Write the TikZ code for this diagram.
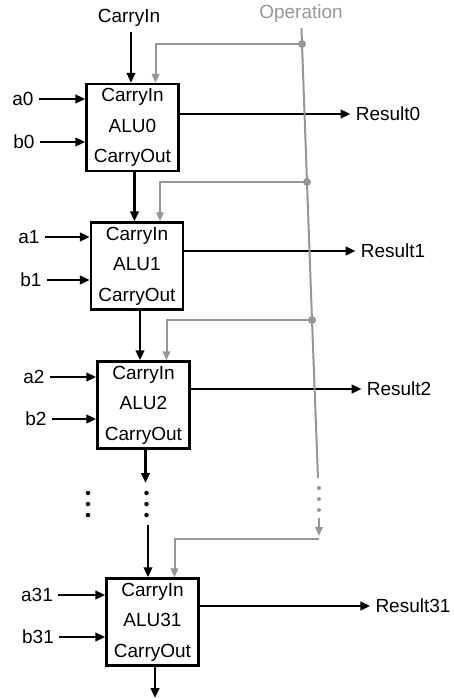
\documentclass[tikz,border=0pt]{standalone}
\usepackage{fontspec}
\setmainfont{Liberation Sans}
\usepackage{xcolor}
\usetikzlibrary{arrows.meta,positioning}

\definecolor{opgray}{RGB}{150,150,150}

\begin{document}
\begin{tikzpicture}[
  x=1pt, y=-1pt,
  font=\fontsize{19}{30.5}\selectfont,
  alu/.style={draw, line width=2.4pt, align=center, minimum width=92pt, minimum height=87pt, inner sep=0pt},
  lbl/.style={inner sep=5pt},
  sig/.style={-{Triangle[length=10pt, width=8.5pt]}, line width=2.5pt},
  ctrl/.style={-{Triangle[length=9pt, width=7.5pt]}, line width=2pt, opgray},
  tap/.style={circle, fill=opgray, inner sep=0pt, minimum size=8pt},
  dotmark/.style={circle, fill=black, inner sep=0pt, minimum size=4.5pt}
]
\useasboundingbox (0,0) rectangle (453,699);

% the four ALU slices
\node[alu] (alu0) at (132.5,127.5) {CarryIn\\ALU0\\CarryOut};
\node[alu] (alu1) at (137,266) {CarryIn\\ALU1\\CarryOut};
\node[alu] (alu2) at (143.5,405) {CarryIn\\ALU2\\CarryOut};
\node[alu] (alu31) at (152.5,622) {CarryIn\\ALU31\\CarryOut};

% inputs
\node[lbl] (a0) at (23,99) {a0};
\node[lbl] (b0) at (24,142) {b0};
\node[lbl] (a1) at (29,237) {a1};
\node[lbl] (b1) at (31,280) {b1};
\node[lbl] (a2) at (34,377) {a2};
\node[lbl] (b2) at (36,419) {b2};
\node[lbl] (a31) at (37,595) {a31};
\node[lbl] (b31) at (38,637) {b31};

\draw[sig] (a0) -- (a0 -| alu0.west);
\draw[sig] (b0) -- (b0 -| alu0.west);
\draw[sig] (a1) -- (a1 -| alu1.west);
\draw[sig] (b1) -- (b1 -| alu1.west);
\draw[sig] (a2) -- (a2 -| alu2.west);
\draw[sig] (b2) -- (b2 -| alu2.west);
\draw[sig] (a31) -- (a31 -| alu31.west);
\draw[sig] (b31) -- (b31 -| alu31.west);

% results
\node[lbl] (res0) at (388,114) {Result0};
\node[lbl] (res1) at (393,251) {Result1};
\node[lbl] (res2) at (399,389) {Result2};
\node[lbl] (res31) at (413,606) {Result31};

\draw[sig] (alu0.east |- res0) -- (res0);
\draw[sig] (alu1.east |- res1) -- (res1);
\draw[sig] (alu2.east |- res2) -- (res2);
\draw[sig] (alu31.east |- res31) -- (res31);

% carry chain
\node[lbl] (cin) at (129,18) {CarryIn};
\draw[sig] (cin.south -| alu0.north) ++(-1.5,0) coordinate (cintop) -- (cintop |- alu0.north);
\draw[sig] ([xshift=2pt]alu0.south) -- ([xshift=2pt]alu0.south |- alu1.north);
\draw[sig] ([xshift=3pt]alu1.south) -- ([xshift=3pt]alu1.south |- alu2.north);
\coordinate (gaptop) at (145.5,483);
\coordinate (gapbot) at (148,525);
\draw[sig] ([xshift=2pt]alu2.south) -- (gaptop);
\draw[sig] (gapbot) -- (gapbot |- alu31.north);
\coordinate (cout) at (155,698);
\draw[sig] (cout |- alu31.south) -- (cout);

\foreach \k/\y in {1/493,2/504,3/515} {
  \node[dotmark] (cd\k) at (146.5,\y) {};
  \node[dotmark] (ld\k) at (88,\y) {};
}

% operation bus
\node[lbl, text=opgray] (op) at (301,14) {Operation};
\node[tap] (t0) at (302,44) {};
\node[tap] (t1) at (307,182) {};
\node[tap] (t2) at (312,320) {};
\coordinate (opend) at (318,478);
\draw[line width=2pt, opgray] (op) -- (t0.center) -- (t1.center) -- (t2.center) -- (opend);

\draw[ctrl] (t0.center) -| ([xshift=23pt]alu0.north);
\draw[ctrl] (t1.center) -| ([xshift=23pt]alu1.north);
\draw[ctrl] (t2.center) -| ([xshift=23pt]alu2.north);

\foreach \k/\y in {1/488,2/499,3/510} {
  \node[circle, fill=opgray, inner sep=0pt, minimum size=4pt] (od\k) at (319,\y) {};
}
\coordinate (opres) at (319,518);
\coordinate (op31) at (319,539);
\draw[ctrl] (opres) -- ([yshift=3pt]op31);
\draw[ctrl] (op31) -| ([xshift=22pt]alu31.north);
\end{tikzpicture}
\end{document}
